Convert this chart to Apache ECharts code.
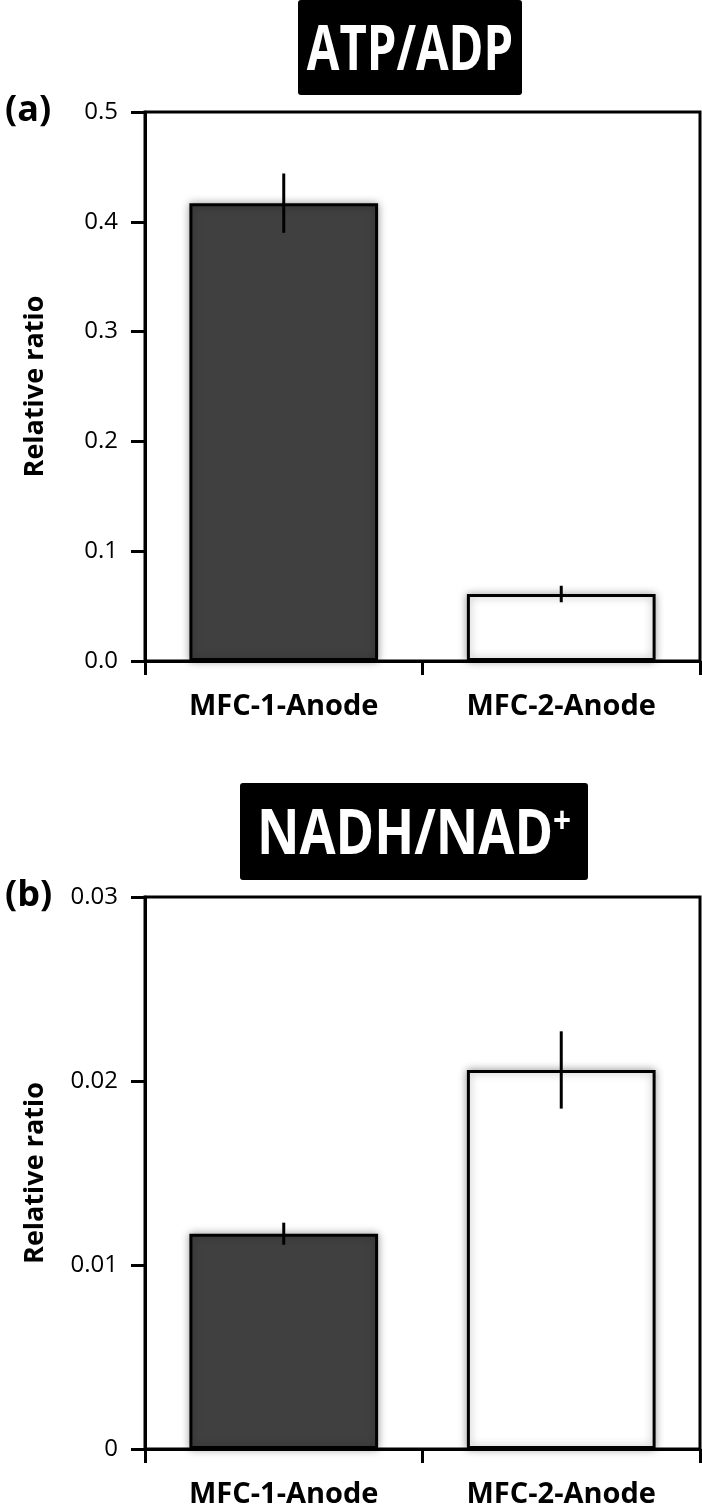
<!DOCTYPE html>
<html>
<head>
<meta charset="utf-8">
<script src="https://cdn.jsdelivr.net/npm/echarts@6/dist/echarts.min.js"></script>
<style>html,body{margin:0;padding:0;background:#fff}#c{width:702px;height:1512px}</style>
</head>
<body>
<div id="c"></div>
<script>
const categories = ['MFC-1-Anode', 'MFC-2-Anode'];
const atpValues = [0.417, 0.061];
const atpErrors = [0.027, 0.0075];
const nadhValues = [0.0117, 0.0206];
const nadhErrors = [0.0006, 0.0021];
const barColors = ['#404040', '#ffffff'];
const atpAxis = { min: 0, max: 0.5, interval: 0.1 };
const nadhAxis = { min: 0, max: 0.03, interval: 0.01 };

const FONT = 'Open Sans';
const chart = echarts.init(document.getElementById('c'), null, { renderer: 'canvas' });

function barData(vals) {
  return vals.map((v, i) => ({ value: v, itemStyle: { color: barColors[i] } }));
}
function errData(vals, errs) {
  return vals.map((v, i) => [i, v - errs[i], v + errs[i]]);
}
function errRender(params, api) {
  const x = api.value(0);
  const p1 = api.coord([x, api.value(1)]);
  const p2 = api.coord([x, api.value(2)]);
  return { type: 'line', shape: { x1: p1[0], y1: p1[1], x2: p2[0], y2: p2[1] },
           style: { stroke: '#000', lineWidth: 3 } };
}
function xAxisCfg(gi) {
  return {
    type: 'category', gridIndex: gi, data: categories,
    axisLine: { lineStyle: { color: '#000', width: 3 } },
    axisTick: { show: true, length: 14, lineStyle: { color: '#000', width: 3 } },
    axisLabel: { color: '#000', fontFamily: FONT, fontWeight: 'bold', fontSize: 29, margin: 31 }
  };
}
function yAxisCfg(gi, ax, fmt) {
  return {
    type: 'value', gridIndex: gi, min: ax.min, max: ax.max, interval: ax.interval,
    name: 'Relative ratio', nameLocation: 'middle', nameGap: 96, nameRotate: 90,
    nameTextStyle: { color: '#000', fontFamily: FONT, fontWeight: 'bold', fontSize: 27 },
    axisLine: { show: true, lineStyle: { color: '#000', width: 3 } },
    axisTick: { show: true, length: 14, lineStyle: { color: '#000', width: 3 } },
    splitLine: { show: false },
    axisLabel: { color: '#000', fontFamily: FONT, fontSize: 24, margin: 27, formatter: fmt }
  };
}
function titleBox(left, top, w, h, sx, textStyle) {
  return {
    type: 'group', left: left, top: top,
    children: [
      { type: 'rect', shape: { x: 0, y: 0, width: w, height: h, r: 3 }, style: { fill: '#000' } },
      { type: 'text', x: w / 2, y: h / 2 + 5, scaleX: sx,
        style: Object.assign({ fill: '#fff', align: 'center', verticalAlign: 'middle',
          fontFamily: FONT, fontWeight: 'bold', fontSize: 63 }, textStyle) }
    ]
  };
}
const barStyle = { borderColor: '#000', borderWidth: 3, shadowBlur: 8, shadowColor: 'rgba(0,0,0,0.35)' };

chart.setOption({
  animation: false,
  backgroundColor: '#fff',
  title: [
    { text: '(a)', left: 0, top: 88, textStyle: { color: '#000', fontFamily: FONT, fontWeight: 'bold', fontSize: 36 } },
    { text: '(b)', left: 0, top: 873, textStyle: { color: '#000', fontFamily: FONT, fontWeight: 'bold', fontSize: 36 } }
  ],
  graphic: [
    titleBox(298, 0, 224, 95, 0.75, { text: 'ATP/ADP' }),
    titleBox(240, 783, 348, 97, 0.83, {
      text: '{m|NADH/NAD}{s|+}',
      rich: {
        m: { fill: '#fff', fontFamily: FONT, fontWeight: 'bold', fontSize: 63 },
        s: { fill: '#fff', fontFamily: FONT, fontWeight: 'bold', fontSize: 38, verticalAlign: 'top', padding: [0, 0, 28, 0] }
      }
    })
  ],
  grid: [
    { left: 145, top: 112, width: 555, height: 549, show: true, borderColor: '#000', borderWidth: 3, backgroundColor: 'transparent' },
    { left: 145, top: 897, width: 555, height: 552, show: true, borderColor: '#000', borderWidth: 3, backgroundColor: 'transparent' }
  ],
  xAxis: [xAxisCfg(0), xAxisCfg(1)],
  yAxis: [yAxisCfg(0, atpAxis, v => v.toFixed(1)), yAxisCfg(1, nadhAxis, v => (v === 0 ? '0' : v.toFixed(2)))],
  series: [
    { type: 'bar', xAxisIndex: 0, yAxisIndex: 0, data: barData(atpValues), barWidth: '68%', itemStyle: barStyle },
    { type: 'custom', xAxisIndex: 0, yAxisIndex: 0, data: errData(atpValues, atpErrors), renderItem: errRender, z: 5 },
    { type: 'bar', xAxisIndex: 1, yAxisIndex: 1, data: barData(nadhValues), barWidth: '68%', itemStyle: barStyle },
    { type: 'custom', xAxisIndex: 1, yAxisIndex: 1, data: errData(nadhValues, nadhErrors), renderItem: errRender, z: 5 }
  ]
});
</script>
</body>
</html>
